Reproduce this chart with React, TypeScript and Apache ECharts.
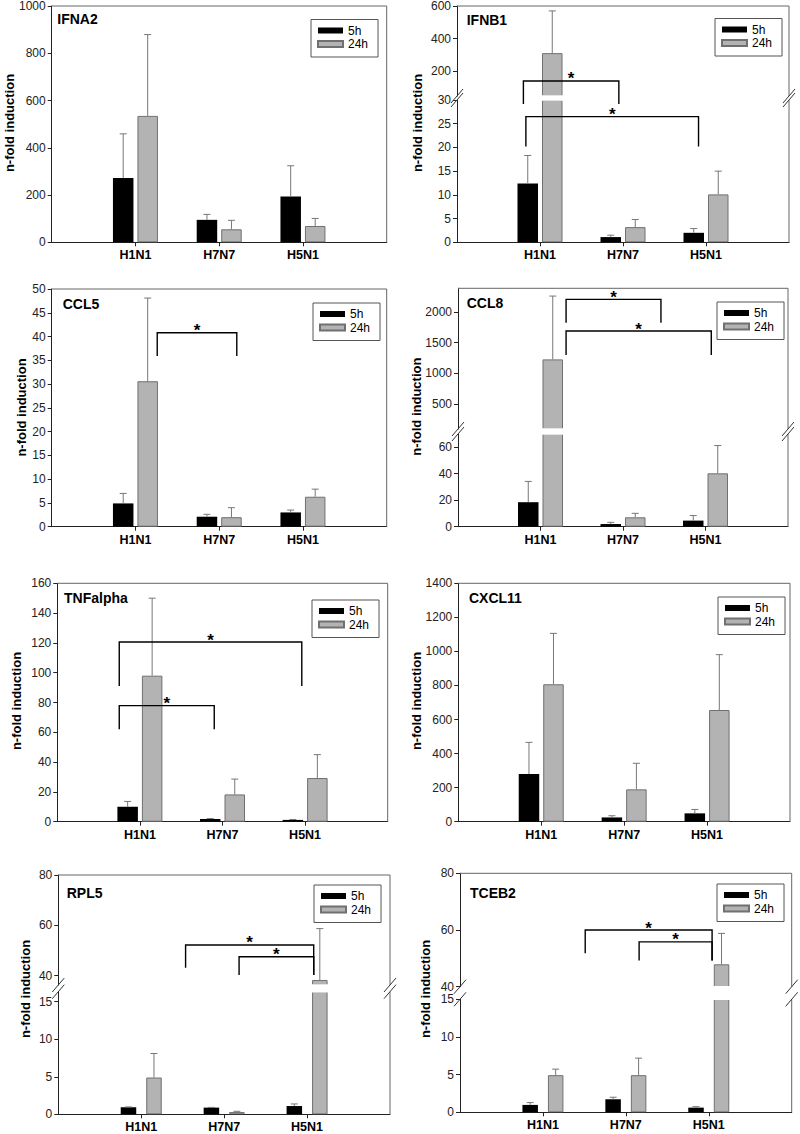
import React, { useEffect, useRef } from "react";
import * as echarts from "echarts";

const FONT = "'Liberation Sans', Arial, Helvetica, sans-serif";

const categories = ["H1N1", "H7N7", "H5N1"];
const legendNames = ["5h", "24h"];
const yAxisTitle = "n-fold induction";

// ---- IFNA2
const ifna2_5h = [272, 95, 194];
const ifna2_5hErr = [187, 23, 130];
const ifna2_24h = [535, 55, 69];
const ifna2_24hErr = [344, 38, 32];
const ifna2Ticks = [0, 200, 400, 600, 800, 1000];

// ---- IFNB1
const ifnb1_5h = [12.4, 1.1, 2.0];
const ifnb1_5hErr = [5.9, 0.4, 0.9];
const ifnb1_24h = [312, 3.2, 10.1];
const ifnb1_24hErr = [258, 1.6, 4.9];
const ifnb1LowTicks = [0, 5, 10, 15, 20, 25, 30];
const ifnb1HighTicks = [200, 400, 600];
const ifnb1Brackets = [
  { seg: 1, x1: 0.8, x2: 1.95, y: 142, leg1: 1.7, leg2: 1.7 },
  { seg: 0, x1: 0.83, x2: 2.91, y: 26.5, leg1: 20.2, leg2: 20.2 },
];

// ---- CCL5
const ccl5_5h = [4.9, 2.1, 3.0];
const ccl5_5hErr = [2.1, 0.5, 0.5];
const ccl5_24h = [30.6, 2.0, 6.3];
const ccl5_24hErr = [17.5, 2.0, 1.6];
const ccl5Ticks = [0, 5, 10, 15, 20, 25, 30, 35, 40, 45, 50];
const ccl5Brackets = [{ seg: 0, x1: 1.26, x2: 2.21, y: 40.8, leg1: 35.9, leg2: 35.9 }];

// ---- CCL8
const ccl8_5h = [18.5, 2.0, 4.6];
const ccl8_5hErr = [15.7, 1.3, 3.8];
const ccl8_24h = [1228, 7.1, 40.3];
const ccl8_24hErr = [1026, 3.0, 21.0];
const ccl8LowTicks = [0, 20, 40, 60];
const ccl8HighTicks = [500, 1000, 1500, 2000];
const ccl8Brackets = [
  { seg: 1, x1: 1.31, x2: 2.46, y: 2200, leg1: 1822, leg2: 1822 },
  { seg: 1, x1: 1.31, x2: 3.07, y: 1687, leg1: 1298, leg2: 1298 },
];

// ---- TNFalpha
const tnf_5h = [10.1, 1.8, 1.2];
const tnf_5hErr = [3.5, 0.3, 0.3];
const tnf_24h = [98, 18.3, 29.3];
const tnf_24hErr = [52, 10.3, 15.7];
const tnfTicks = [0, 20, 40, 60, 80, 100, 120, 140, 160];
const tnfBrackets = [
  { seg: 0, x1: 0.75, x2: 2.96, y: 120.6, leg1: 91, leg2: 91 },
  { seg: 0, x1: 0.75, x2: 1.9, y: 77.9, leg1: 62, leg2: 62 },
];

// ---- CXCL11
const cxcl11_5h = [280, 25, 49];
const cxcl11_5hErr = [186, 10, 23];
const cxcl11_24h = [807, 190, 656];
const cxcl11_24hErr = [299, 153, 325];
const cxcl11Ticks = [0, 200, 400, 600, 800, 1000, 1200, 1400];

// ---- RPL5
const rpl5_5h = [0.93, 0.89, 1.1];
const rpl5_5hErr = [0.05, 0.03, 0.28];
const rpl5_24h = [4.9, 0.3, 38.3];
const rpl5_24hErr = [3.2, 0.1, 20.4];
const rpl5LowTicks = [0, 5, 10, 15];
const rpl5HighTicks = [40, 60, 80];
const rpl5Brackets = [
  { seg: 1, x1: 1.535, x2: 3.08, y: 52.2, leg1: 43.2, leg2: 40.3 },
  { seg: 1, x1: 2.18, x2: 3.08, y: 47.5, leg1: 40.3, leg2: 40.3 },
];

// ---- TCEB2
const tceb2_5h = [0.98, 1.73, 0.62];
const tceb2_5hErr = [0.31, 0.27, 0.13];
const tceb2_24h = [4.93, 4.93, 47.9];
const tceb2_24hErr = [0.8, 2.26, 10.9];
const tceb2LowTicks = [0, 5, 10, 15];
const tceb2HighTicks = [40, 60, 80];
const tceb2Brackets = [
  { seg: 1, x1: 1.51, x2: 3.04, y: 60, leg1: 51.8, leg2: 49.2 },
  { seg: 1, x1: 2.16, x2: 3.04, y: 55.8, leg1: 49.2, leg2: 49.2 },
];

type Seg = { min: number; max: number; ticks: number[]; top: number; bottom: number };
type Bracket = { seg: number; x1: number; x2: number; y: number; leg1: number; leg2: number };
type Panel = {
  title: string;
  v5: number[];
  e5: number[];
  v24: number[];
  e24: number[];
  left: number;
  right: number;
  segs: Seg[];
  legend: [number, number];
  titlePos: [number, number];
  namePos: [number, number];
  brackets: Bracket[];
  barW: number;
  gap: number;
};

const panels: Panel[] = [
  {
    title: "IFNA2", v5: ifna2_5h, e5: ifna2_5hErr, v24: ifna2_24h, e24: ifna2_24hErr,
    left: 51.7, right: 386.7,
    segs: [{ min: 0, max: 1000, ticks: ifna2Ticks, top: 6, bottom: 242.3 }],
    legend: [311, 19.5], titlePos: [57.3, 18.5], namePos: [9, 123], brackets: [], barW: 20.5, gap: 4,
  },
  {
    title: "IFNB1", v5: ifnb1_5h, e5: ifnb1_5hErr, v24: ifnb1_24h, e24: ifnb1_24hErr,
    left: 457, right: 789,
    segs: [
      { min: 0, max: 30, ticks: ifnb1LowTicks, top: 100, bottom: 242.3 },
      { min: 50, max: 600, ticks: ifnb1HighTicks, top: 6, bottom: 96 },
    ],
    legend: [715, 18.5], titlePos: [466.7, 20], namePos: [417.7, 123], brackets: ifnb1Brackets, barW: 20.5, gap: 4,
  },
  {
    title: "CCL5", v5: ccl5_5h, e5: ccl5_5hErr, v24: ccl5_24h, e24: ccl5_24hErr,
    left: 51.7, right: 386.7,
    segs: [{ min: 0, max: 50, ticks: ccl5Ticks, top: 289, bottom: 526.7 }],
    legend: [313, 303], titlePos: [62.7, 304.3], namePos: [21, 407.5], brackets: ccl5Brackets, barW: 20.5, gap: 4,
  },
  {
    title: "CCL8", v5: ccl8_5h, e5: ccl8_5hErr, v24: ccl8_24h, e24: ccl8_24hErr,
    left: 458, right: 788,
    segs: [
      { min: 0, max: 70, ticks: ccl8LowTicks, top: 434, bottom: 526.7 },
      { min: 100, max: 2380, ticks: ccl8HighTicks, top: 288.3, bottom: 429 },
    ],
    legend: [717, 302], titlePos: [466.7, 303.3], namePos: [416.3, 406.7], brackets: ccl8Brackets, barW: 20.5, gap: 4,
  },
  {
    title: "TNFalpha", v5: tnf_5h, e5: tnf_5hErr, v24: tnf_24h, e24: tnf_24hErr,
    left: 57.3, right: 387.7,
    segs: [{ min: 0, max: 160, ticks: tnfTicks, top: 583.3, bottom: 821.7 }],
    legend: [312, 600], titlePos: [64, 597.7], namePos: [16, 701], brackets: tnfBrackets, barW: 20.5, gap: 4,
  },
  {
    title: "CXCL11", v5: cxcl11_5h, e5: cxcl11_5hErr, v24: cxcl11_24h, e24: cxcl11_24hErr,
    left: 458.3, right: 790,
    segs: [{ min: 0, max: 1400, ticks: cxcl11Ticks, top: 583.3, bottom: 821.7 }],
    legend: [718, 597], titlePos: [469, 598.3], namePos: [416.7, 701], brackets: [], barW: 20.5, gap: 4,
  },
  {
    title: "RPL5", v5: rpl5_5h, e5: rpl5_5hErr, v24: rpl5_24h, e24: rpl5_24hErr,
    left: 58.3, right: 390,
    segs: [
      { min: 0, max: 16.33, ticks: rpl5LowTicks, top: 991.7, bottom: 1114.3 },
      { min: 36.3, max: 80, ticks: rpl5HighTicks, top: 875, bottom: 985 },
    ],
    legend: [314, 885], titlePos: [66.7, 893.3], namePos: [25.3, 989], brackets: rpl5Brackets, barW: 15.5, gap: 10,
  },
  {
    title: "TCEB2", v5: tceb2_5h, e5: tceb2_5hErr, v24: tceb2_24h, e24: tceb2_24hErr,
    left: 460, right: 791.7,
    segs: [
      { min: 0, max: 15, ticks: tceb2LowTicks, top: 999.3, bottom: 1112.3 },
      { min: 40, max: 80, ticks: tceb2HighTicks, top: 873.3, bottom: 986.7 },
    ],
    legend: [717, 884], titlePos: [470, 893.3], namePos: [425.3, 989], brackets: tceb2Brackets, barW: 15.5, gap: 10,
  },
];

const AXIS_COLOR = "#222";
const FRAME_COLOR = "#666";
const GRAY = "#b3b3b3";
const GRAY_BORDER = "#707070";
const ERR_COLOR = "#777";

function errRender(offset: number) {
  return (params: any, api: any) => {
    const cs = params.coordSys;
    const i = api.value(0);
    const a = api.coord([i, api.value(1)]);
    const b = api.coord([i, api.value(2)]);
    const gTop = cs.y;
    const gBot = cs.y + cs.height;
    if (a[1] < gTop - 0.5) return null;
    if (b[1] > gBot) return null;
    const x = a[0] + offset;
    const y0 = Math.min(a[1], gBot);
    const y1 = Math.max(b[1], gTop);
    const children: any[] = [
      { type: "line", shape: { x1: x, y1: y0, x2: x, y2: y1 }, style: { stroke: ERR_COLOR, lineWidth: 1 } },
    ];
    if (b[1] >= gTop) {
      children.push({
        type: "line",
        shape: { x1: x - 3.5, y1: b[1], x2: x + 3.5, y2: b[1] },
        style: { stroke: ERR_COLOR, lineWidth: 1 },
      });
    }
    return { type: "group", children };
  };
}

function bracketRender(params: any, api: any) {
  const y = api.value(1);
  const c0 = api.coord([0, y]);
  const c1 = api.coord([1, y]);
  const step = c1[0] - c0[0];
  const xa = c0[0] + api.value(4) * step;
  const xb = c0[0] + api.value(5) * step;
  const py = c0[1];
  const l1 = api.coord([0, api.value(2)])[1];
  const l2 = api.coord([0, api.value(3)])[1];
  return {
    type: "group",
    children: [
      {
        type: "polyline",
        shape: { points: [[xa, l1], [xa, py], [xb, py], [xb, l2]] },
        style: { stroke: "#000", lineWidth: 1.4, fill: "none" },
      },
      {
        type: "text",
        x: (xa + xb) / 2,
        y: py - 2,
        style: {
          text: "*",
          font: `bold 17px ${FONT}`,
          textAlign: "center",
          textVerticalAlign: "middle",
          fill: "#000",
        },
      },
    ],
  };
}

function buildOption() {
  const grids: any[] = [];
  const xAxes: any[] = [];
  const yAxes: any[] = [];
  const series: any[] = [];
  const legends: any[] = [];
  const graphics: any[] = [];
  const axisCats = ["", ...categories, ""];

  panels.forEach((p) => {
    const off = (p.barW + p.gap) / 2;
    p.segs.forEach((s, si) => {
      const gi = grids.length;
      const isBase = si === 0;
      grids.push({
        left: p.left,
        top: s.top,
        width: p.right - p.left,
        height: s.bottom - s.top,
        show: false,
        containLabel: false,
        outerBoundsMode: "none",
      });
      xAxes.push({
        type: "category",
        gridIndex: gi,
        data: axisCats,
        boundaryGap: false,
        show: isBase,
        axisLine: { show: true, lineStyle: { color: AXIS_COLOR, width: 1 } },
        axisTick: {
          show: true,
          length: 4,
          interval: (idx: number) => idx >= 1 && idx <= categories.length,
          lineStyle: { color: AXIS_COLOR },
        },
        axisLabel: {
          interval: 0,
          fontFamily: FONT,
          fontSize: 12.5,
          fontWeight: "bold",
          color: "#000",
          margin: 7,
          lineHeight: 12,
        },
        splitLine: { show: false },
      });
      yAxes.push({
        type: "value",
        gridIndex: gi,
        min: s.min,
        max: s.max,
        splitLine: { show: false },
        axisLine: { show: true, lineStyle: { color: AXIS_COLOR, width: 1 } },
        axisTick: { show: true, length: 4, customValues: s.ticks, lineStyle: { color: AXIS_COLOR } },
        axisLabel: {
          customValues: s.ticks,
          fontFamily: FONT,
          fontSize: 12,
          color: "#222",
          margin: 6,
          lineHeight: 10,
          formatter: (v: number) => String(v),
        },
      });
      const inSeg = (v: number) => (isBase ? v : v > s.min ? v : "-");
      series.push({
        type: "bar",
        name: legendNames[0],
        xAxisIndex: gi,
        yAxisIndex: gi,
        data: ["-", ...p.v5.map(inSeg), "-"],
        barWidth: p.barW,
        barGap: `${(p.gap / p.barW) * 100}%`,
        clip: true,
        itemStyle: { color: "#000" },
        silent: true,
        z: 2,
      });
      series.push({
        type: "bar",
        name: legendNames[1],
        xAxisIndex: gi,
        yAxisIndex: gi,
        data: ["-", ...p.v24.map(inSeg), "-"],
        barWidth: p.barW,
        barGap: `${(p.gap / p.barW) * 100}%`,
        clip: true,
        itemStyle: { color: GRAY, borderColor: GRAY_BORDER, borderWidth: 1 },
        silent: true,
        z: 2,
      });
      const errData = (vals: number[], errs: number[]) =>
        vals
          .map((v, i) => [i + 1, v, v + errs[i]])
          .filter((d) => isBase || d[2] > s.min);
      series.push({
        type: "custom",
        xAxisIndex: gi,
        yAxisIndex: gi,
        renderItem: errRender(-off),
        data: errData(p.v5, p.e5),
        silent: true,
        z: 3,
      });
      series.push({
        type: "custom",
        xAxisIndex: gi,
        yAxisIndex: gi,
        renderItem: errRender(off),
        data: errData(p.v24, p.e24),
        silent: true,
        z: 3,
      });
      const bs = p.brackets.filter((b) => b.seg === si);
      if (bs.length) {
        series.push({
          type: "custom",
          xAxisIndex: gi,
          yAxisIndex: gi,
          renderItem: bracketRender,
          data: bs.map((b) => [1, b.y, b.leg1, b.leg2, b.x1, b.x2]),
          silent: true,
          z: 6,
        });
      }
    });

    legends.push({
      data: legendNames,
      orient: "vertical",
      left: p.legend[0],
      top: p.legend[1],
      itemWidth: 25,
      itemHeight: 6,
      itemGap: 1.5,
      padding: [5, 10, 7, 6],
      borderColor: "#555",
      borderWidth: 1,
      icon: "rect",
      selectedMode: false,
      textStyle: { fontSize: 12, fontFamily: FONT, color: "#000" },
    });

    graphics.push({
      type: "text",
      x: p.titlePos[0],
      y: p.titlePos[1],
      z: 10,
      style: {
        text: p.title,
        font: `bold 14px ${FONT}`,
        textAlign: "left",
        textVerticalAlign: "middle",
        fill: "#000",
      },
    });
    graphics.push({
      type: "text",
      x: p.namePos[0],
      y: p.namePos[1],
      rotation: Math.PI / 2,
      z: 10,
      style: {
        text: yAxisTitle,
        font: `bold 13px ${FONT}`,
        textAlign: "center",
        textVerticalAlign: "middle",
        fill: "#000",
      },
    });
    const topSeg = p.segs[p.segs.length - 1];
    graphics.push({
      type: "line",
      z: 10,
      shape: { x1: p.left, y1: topSeg.top, x2: p.right, y2: topSeg.top },
      style: { stroke: FRAME_COLOR, lineWidth: 1 },
    });
    p.segs.forEach((s) => {
      graphics.push({
        type: "line",
        z: 10,
        shape: { x1: p.right, y1: s.top, x2: p.right, y2: s.bottom },
        style: { stroke: FRAME_COLOR, lineWidth: 1 },
      });
    });
    if (p.segs.length > 1) {
      // white gap through the broken bars (hides the clipped bar edges)
      graphics.push({
        type: "rect",
        z: 4,
        shape: {
          x: p.left + 1,
          y: p.segs[1].bottom - 0.8,
          width: p.right - p.left - 2,
          height: p.segs[0].top - p.segs[1].bottom + 1.6,
        },
        style: { fill: "#fff" },
      });
      const ys = [p.segs[1].bottom, p.segs[0].top];
      [p.left, p.right].forEach((x) => {
        ys.forEach((yc) => {
          graphics.push({
            type: "line",
            z: 10,
            shape: { x1: x - 6, y1: yc + 7, x2: x + 6, y2: yc - 7 },
            style: { stroke: "#333", lineWidth: 1 },
          });
        });
      });
    }
  });

  return {
    animation: false,
    backgroundColor: "#fff",
    grid: grids,
    xAxis: xAxes,
    yAxis: yAxes,
    legend: legends,
    series,
    graphic: { elements: graphics },
  };
}

export default function App() {
  const ref = useRef<HTMLDivElement>(null);
  useEffect(() => {
    const chart = echarts.init(ref.current!, null, { renderer: "svg" });
    chart.setOption(buildOption() as any);
    return () => chart.dispose();
  }, []);
  return (
    <div
      ref={ref}
      style={{ position: "absolute", left: 0, top: 0, width: 800, height: 1134, background: "#fff" }}
    />
  );
}
